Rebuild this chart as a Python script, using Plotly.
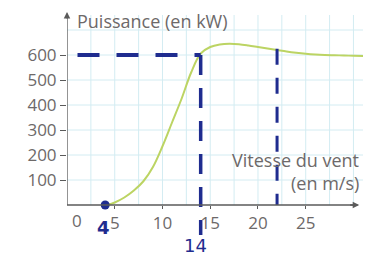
import plotly.graph_objects as go

# ---- data ----
x_curve = [4.2, 5, 6, 7, 8, 9, 10, 11, 12, 13, 14, 15, 16, 17, 18, 19, 20, 21, 22, 23, 24, 25, 26, 27, 28, 29, 30, 31]
y_curve = [0, 10, 30, 58, 95, 152, 235, 330, 425, 530, 606, 632, 642, 645, 643, 638, 632, 626, 620, 614, 609, 605, 602, 600, 599, 598, 597, 596]

x_ticks = [5, 10, 15, 20, 25]
y_ticks = [100, 200, 300, 400, 500, 600]
y_ticklabels = ["100", "200", "300", "400", "500", "600"]

# handwritten annotations
h_line_x = [1.1, 14]
h_line_y = [600, 600]
v14_x = [14, 14]
v14_y = [600, -120]
v22_x = [22, 22]
v22_y = [625, 0]
dot_x = [4]
dot_y = [0]

GRAY = "#6d6969"
AXIS = "#5a5a5a"
NAVY = "#1f2c8f"
GREEN = "#bcd463"
GRID = "#d3ecf2"
FONT = "Open Sans"

X_MAX = 31
Y_MIN, Y_MAX = -200, 772

fig = go.Figure()

# grid (styling)
shapes = []
gx = 2.5
while gx <= 30.01:
    shapes.append(dict(type="line", xref="x", yref="y", x0=gx, x1=gx, y0=0, y1=760,
                       line=dict(color=GRID, width=1), layer="below"))
    gx += 2.5
for gy in range(100, 800, 100):
    shapes.append(dict(type="line", xref="x", yref="y", x0=0, x1=X_MAX, y0=gy, y1=gy,
                       line=dict(color=GRID, width=1), layer="below"))
# axis lines
shapes.append(dict(type="line", xref="x", yref="y", x0=0, x1=30.4, y0=0, y1=0,
                   line=dict(color=AXIS, width=1.3)))
shapes.append(dict(type="line", xref="x", yref="y", x0=0, x1=0, y0=0, y1=765,
                   line=dict(color=AXIS, width=1.3)))

fig.add_trace(go.Scatter(x=x_curve, y=y_curve, mode="lines",
                         line=dict(color=GREEN, width=2, shape="spline", smoothing=1.0),
                         hoverinfo="skip"))

fig.add_trace(go.Scatter(x=h_line_x, y=h_line_y, mode="lines",
                         line=dict(color=NAVY, width=4, dash="22px,17px"), hoverinfo="skip"))
fig.add_trace(go.Scatter(x=v14_x, y=v14_y, mode="lines",
                         line=dict(color=NAVY, width=3.5, dash="20px,13px"), hoverinfo="skip"))
fig.add_trace(go.Scatter(x=v22_x, y=v22_y, mode="lines",
                         line=dict(color=NAVY, width=3, dash="16px,13px"), hoverinfo="skip"))
fig.add_trace(go.Scatter(x=dot_x, y=dot_y, mode="markers",
                         marker=dict(color=NAVY, size=9), hoverinfo="skip", cliponaxis=False))

annotations = [
    dict(x=0, y=772, ax=0, ay=740, xref="x", yref="y", axref="x", ayref="y",
         showarrow=True, arrowhead=2, arrowsize=1, arrowwidth=1.3, arrowcolor=AXIS, text=""),
    dict(x=30.6, y=0, ax=29.5, ay=0, xref="x", yref="y", axref="x", ayref="y",
         showarrow=True, arrowhead=2, arrowsize=1, arrowwidth=1.3, arrowcolor=AXIS, text=""),
    dict(x=0.8, y=735, xref="x", yref="y", text="Puissance (en kW)", showarrow=False,
         xanchor="left", yanchor="middle", font=dict(family=FONT, size=18, color=GRAY)),
    dict(x=30.8, y=182, xref="x", yref="y", text="Vitesse du vent", showarrow=False,
         xanchor="right", yanchor="middle", font=dict(family=FONT, size=18, color=GRAY)),
    dict(x=30.8, y=90, xref="x", yref="y", text="(en m/s)", showarrow=False,
         xanchor="right", yanchor="middle", font=dict(family=FONT, size=18, color=GRAY)),
    dict(x=1.0, y=-62, xref="x", yref="y", text="0", showarrow=False,
         xanchor="center", yanchor="middle", font=dict(family=FONT, size=17, color=GRAY)),
    dict(x=3.8, y=-90, xref="x", yref="y", text="<b>4</b>", showarrow=False,
         xanchor="center", yanchor="middle", font=dict(family="DejaVu Sans", size=18, color=NAVY)),
    dict(x=13.5, y=-162, xref="x", yref="y", text="14", showarrow=False,
         xanchor="center", yanchor="middle", font=dict(family="DejaVu Sans", size=18, color=NAVY)),
]

# The page body has an 8px default margin: the figure is shrunk and its margins shifted to compensate.
fig.update_layout(
    width=367, height=253,
    margin=dict(l=59, r=12, t=4, b=6),
    paper_bgcolor="white", plot_bgcolor="white",
    showlegend=False,
    shapes=shapes,
    annotations=annotations,
    xaxis=dict(range=[0, X_MAX], tickvals=x_ticks, ticktext=[str(v) for v in x_ticks],
               showgrid=False, zeroline=False, showline=False,
               ticks="outside", ticklen=3, tickcolor=AXIS,
               anchor="free", position=(0 - Y_MIN) / (Y_MAX - Y_MIN),
               tickfont=dict(family=FONT, size=17, color=GRAY), fixedrange=True),
    yaxis=dict(range=[Y_MIN, Y_MAX], tickvals=y_ticks, ticktext=y_ticklabels,
               showgrid=False, zeroline=False, showline=False,
               ticks="outside", ticklen=6, tickcolor=AXIS, automargin=False,
               tickfont=dict(family=FONT, size=17, color=GRAY), fixedrange=True),
)

fig.write_html("out.html")
